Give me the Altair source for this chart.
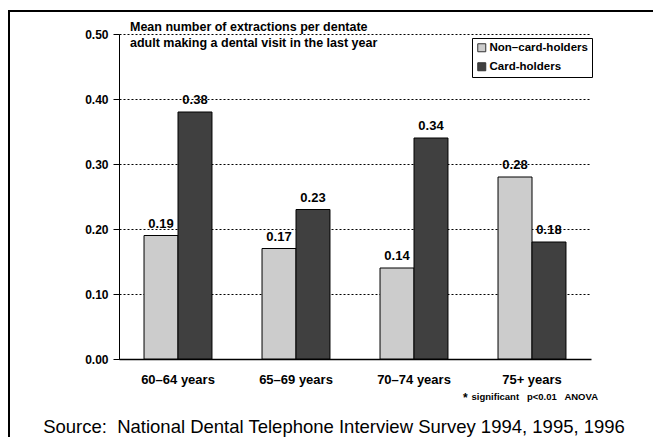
import altair as alt
import pandas as pd

ages = ["60–64 years", "65–69 years", "70–74 years", "75+ years"]
groups = ["Non–card-holders", "Card-holders"]
non_card = [0.19, 0.17, 0.14, 0.28]
card = [0.38, 0.23, 0.34, 0.18]
y_ticks = [0.0, 0.1, 0.2, 0.3, 0.4, 0.5]
colors = ["#cccccc", "#404040"]

rows = []
for a, v in zip(ages, non_card):
    rows.append({"Age": a, "Group": groups[0], "Value": v})
for a, v in zip(ages, card):
    rows.append({"Age": a, "Group": groups[1], "Value": v})
df = pd.DataFrame(rows)

FONT = "Liberation Sans"

x_enc = alt.X("Age:N", sort=ages,
              scale=alt.Scale(paddingInner=0.424, paddingOuter=0.212),
              axis=alt.Axis(title=None, labelAngle=0, ticks=False, tickSize=0,
                            labelPadding=14, labelFont=FONT, labelFontSize=13,
                            labelFontWeight="bold", labelColor="black",
                            domainColor="black", domainWidth=1.5, grid=False))
xo_enc = alt.XOffset("Group:N", sort=groups, scale=alt.Scale(paddingInner=0, paddingOuter=0))
y_enc = alt.Y("Value:Q",
              scale=alt.Scale(domain=[0, 0.5], nice=False),
              axis=alt.Axis(title=None, values=y_ticks, format=".2f",
                            labelFont=FONT, labelFontSize=12, labelFontWeight="bold",
                            labelColor="black", tickColor="black", tickSize=6,
                            labelPadding=5, domainColor="black", domainWidth=1,
                            grid=True, gridColor="black", gridDash=[2, 2],
                            gridWidth=1))

bars = alt.Chart(df).mark_bar(stroke="black", strokeWidth=1).encode(
    x=x_enc, xOffset=xo_enc, y=y_enc,
    color=alt.Color("Group:N", sort=groups,
                    scale=alt.Scale(domain=groups, range=colors),
                    legend=alt.Legend(title=None, orient="none", legendX=353, legendY=4,
                                      strokeColor="black", fillColor="white",
                                      padding=4, rowPadding=6,
                                      symbolType="square", symbolSize=64,
                                      symbolStrokeColor="#333333", symbolStrokeWidth=1,
                                      labelFont=FONT, labelFontSize=11.5,
                                      labelFontWeight="bold", labelColor="black",
                                      labelOffset=2)),
)

labels = alt.Chart(df).mark_text(font=FONT, fontSize=13, fontWeight="bold",
                                 baseline="alphabetic", dy=-8, color="black").encode(
    x=alt.X("Age:N", sort=ages), xOffset=alt.XOffset("Group:N", sort=groups),
    y="Value:Q", text=alt.Text("Value:Q", format=".2f"))

title1 = alt.Chart(pd.DataFrame({"t": ["Mean number of extractions per dentate"]})).mark_text(
    font=FONT, fontSize=12.5, fontWeight="bold", align="left", baseline="alphabetic",
    color="black").encode(text="t:N", x=alt.value(11), y=alt.value(-3))
title2 = alt.Chart(pd.DataFrame({"t": ["adult making a dental visit in the last year"]})).mark_text(
    font=FONT, fontSize=12.5, fontWeight="bold", align="left", baseline="alphabetic",
    color="black").encode(text="t:N", x=alt.value(11), y=alt.value(13))

star = alt.Chart(pd.DataFrame({"t": ["*"]})).mark_text(
    font=FONT, fontSize=12, fontWeight="bold", align="left", baseline="alphabetic",
    color="black").encode(text="t:N", x=alt.value(344), y=alt.value(368))
note = alt.Chart(pd.DataFrame({"t": ["significant\u00a0\u00a0 p<0.01\u00a0\u00a0 ANOVA"]})).mark_text(
    font=FONT, fontSize=9.5, fontWeight="bold", align="right", baseline="alphabetic",
    color="black").encode(text="t:N", x=alt.value(479), y=alt.value(366))

source = alt.Chart(pd.DataFrame({"t": ["Source:\u00a0 National Dental Telephone Interview Survey 1994, 1995, 1996"]})).mark_text(
    font=FONT, fontSize=18.5, align="center", baseline="alphabetic",
    color="black").encode(text="t:N", x=alt.value(215), y=alt.value(399))

top_line = alt.Chart(pd.DataFrame({"a": [0]})).mark_rule(color="black", strokeWidth=2).encode(
    x=alt.value(-111), x2=alt.value(560), y=alt.value(-23))
left_line = alt.Chart(pd.DataFrame({"a": [0]})).mark_rule(color="black", strokeWidth=2).encode(
    x=alt.value(-110), y=alt.value(-24), y2=alt.value(420))

chart = alt.layer(bars, labels, title1, title2, star, note, source, top_line, left_line).properties(
    width=472, height=325,
    autosize=alt.AutoSizeParams(type="none"),
    padding={"left": 111, "top": 26, "right": 62, "bottom": 78},
    background="white",
).configure_view(stroke=None)

chart.save("out.html", embed_options={"renderer": "svg", "actions": False})
